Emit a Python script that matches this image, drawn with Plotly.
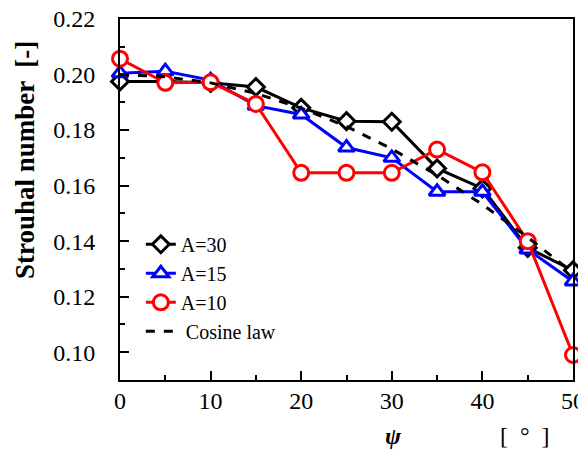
import plotly.graph_objects as go

psi = [0, 5, 10, 15, 20, 25, 30, 35, 40, 45, 50]
st_a30 = [0.1975, 0.1975, 0.197, 0.1955, 0.188, 0.1832, 0.183, 0.1662, 0.159, 0.1376, 0.1295]
st_a15 = [0.2005, 0.2012, 0.198, 0.1888, 0.1856, 0.1737, 0.1700, 0.1578, 0.1578, 0.1370, 0.1255]
st_a10 = [0.2057, 0.1970, 0.1972, 0.1894, 0.1646, 0.1646, 0.1646, 0.1730, 0.1648, 0.1400, 0.0990]
cosine_law = [0.2000, 0.1992, 0.1970, 0.1932, 0.1879, 0.1813, 0.1732, 0.1638, 0.1532, 0.1414, 0.1286]

series = [
    ("A=30", st_a30, "black", "diamond", 13),
    ("A=15", st_a15, "#0000FF", "triangle-up", 14),
    ("A=10", st_a10, "#FF0000", "circle", 15),
]

font_family = "Liberation Serif, Times New Roman, serif"

fig = go.Figure()
for name, vals, col, sym, sz in series:
    fig.add_trace(go.Scatter(
        x=psi, y=vals, name=name, mode="lines+markers",
        line=dict(color=col, width=3),
        marker=dict(symbol=sym, size=sz, color="white", line=dict(color=col, width=3)),
        cliponaxis=False,
    ))
fig.add_trace(go.Scatter(
    x=psi, y=cosine_law, name=" Cosine law", mode="lines",
    line=dict(color="black", width=3, dash="dash"),
))

# page body has an 8px margin, so the figure is offset by 8px
pw, ph = 453, 361  # plot area size in px

fig.update_layout(
    width=578, height=444,
    margin=dict(l=112, r=13, t=11, b=72),
    paper_bgcolor="white", plot_bgcolor="white",
    font=dict(family=font_family, size=24, color="black"),
    showlegend=True,
    legend=dict(
        x=0.046, y=0.43, xanchor="left", yanchor="top",
        bgcolor="rgba(0,0,0,0)", font=dict(size=20),
        tracegroupgap=0, traceorder="normal",
    ),
    xaxis=dict(
        range=[0, 50], tickvals=[0, 10, 20, 30, 40, 50],
        ticks="inside", ticklen=9, tickwidth=2, tickcolor="black",
        minor=dict(dtick=5, ticks="inside", ticklen=5, tickwidth=2, tickcolor="black"),
        showline=True, linewidth=2, linecolor="black", mirror=True,
        showgrid=False, zeroline=False, ticklabelstandoff=-2, automargin=False,
        ticklabeloverflow="allow",
    ),
    yaxis=dict(
        range=[0.09, 0.22], tickvals=[0.10, 0.12, 0.14, 0.16, 0.18, 0.20, 0.22],
        tickformat=".2f",
        ticks="inside", ticklen=9, tickwidth=2, tickcolor="black",
        minor=dict(dtick=0.01, ticks="inside", ticklen=5, tickwidth=2, tickcolor="black"),
        showline=True, linewidth=2, linecolor="black", mirror=True,
        showgrid=False, zeroline=False, ticklabelstandoff=18, automargin=False,
        ticklabeloverflow="allow",
    ),
    annotations=[
        dict(text="<b>Strouhal number  [-]</b>", textangle=-90,
             x=(25 - 120) / pw, y=(380 - 160) / ph, xref="paper", yref="paper",
             xanchor="center", yanchor="middle", showarrow=False, font=dict(size=27)),
        dict(text="<b><i>ψ</i></b>", x=(393 - 120) / pw, y=(380 - 436) / ph,
             xref="paper", yref="paper", xanchor="center", yanchor="middle",
             showarrow=False, font=dict(size=24)),
        dict(text="[\u00a0\u00a0°\u00a0\u00a0]", x=(525 - 120) / pw, y=(380 - 436) / ph,
             xref="paper", yref="paper", xanchor="center", yanchor="middle",
             showarrow=False, font=dict(size=24)),
    ],
)

fig.write_html("out.html")
